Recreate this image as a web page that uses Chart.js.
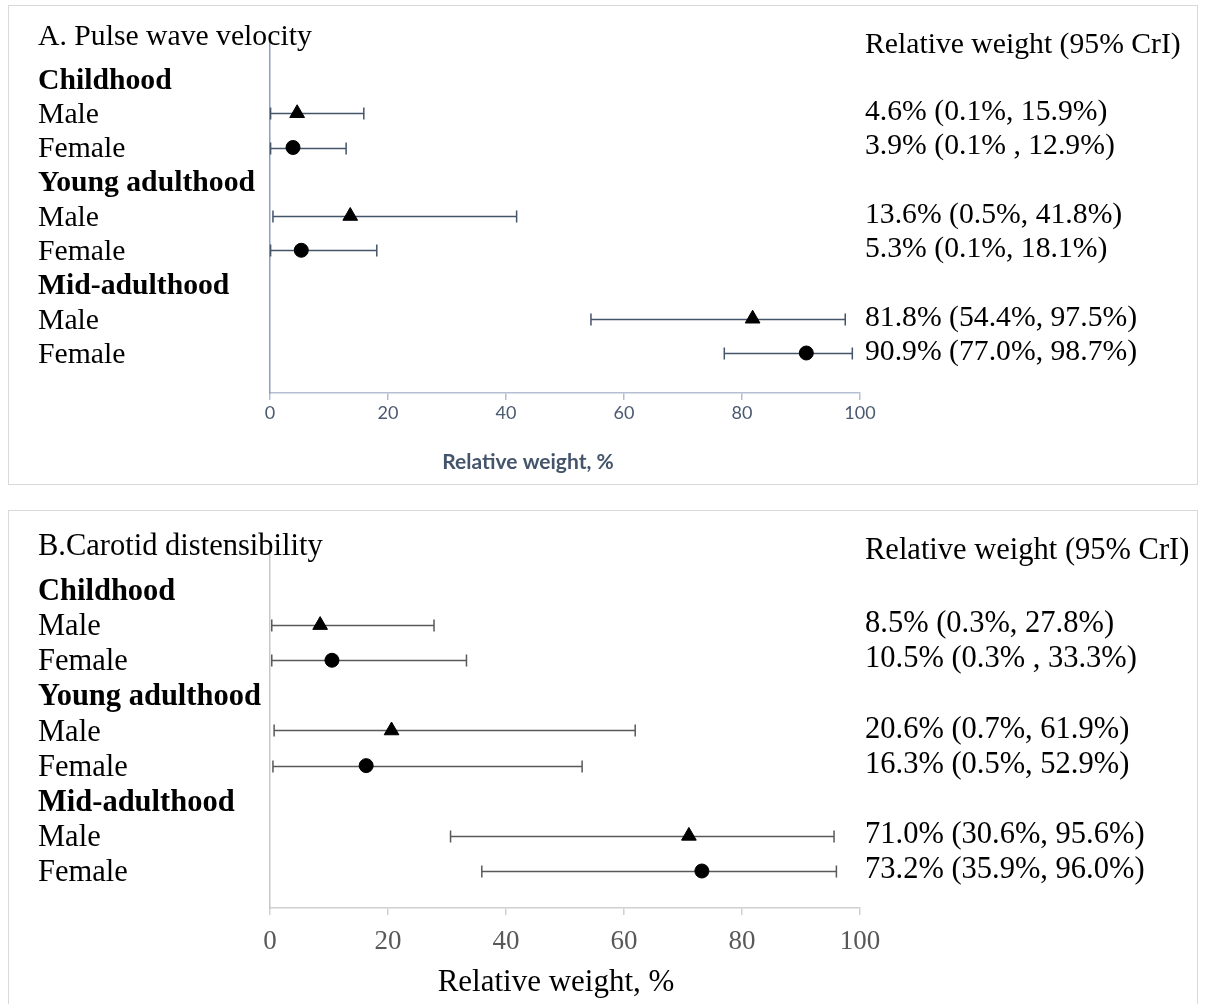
<!DOCTYPE html>
<html>
<head>
<meta charset="utf-8">
<script src="https://cdn.jsdelivr.net/npm/chart.js@4.4.0/dist/chart.umd.min.js"></script>
<style>
  html, body { margin: 0; background: #fff; overflow: hidden; }
  .panel { position: absolute; left: 8px; width: 1190px; box-sizing: border-box; border: 1px solid #d9d9d9; background: #fff; }
  #panelA { top: 5px; height: 480px; }
  #panelB { top: 510px; height: 500px; }
  canvas { display: block; }
</style>
</head>
<body>
<div class="panel" id="panelA"><canvas id="chartA" width="1188" height="478"></canvas></div>
<div class="panel" id="panelB"><canvas id="chartB" width="1188" height="498"></canvas></div>
<script>
const rowLabels = ['Childhood', 'Male', 'Female', 'Young adulthood', 'Male', 'Female', 'Mid-adulthood', 'Male', 'Female'];
const headerRows = [1, 4, 7];
const maleRows = [2, 5, 8];
const femaleRows = [3, 6, 9];
const xTicks = [0, 20, 40, 60, 80, 100];

// A. pulse wave velocity (childhood, young adulthood, mid-adulthood)
const pwvMale = [4.6, 13.6, 81.8];
const pwvMaleLow = [0.1, 0.5, 54.4];
const pwvMaleHigh = [15.9, 41.8, 97.5];
const pwvFemale = [3.9, 5.3, 90.9];
const pwvFemaleLow = [0.1, 0.1, 77.0];
const pwvFemaleHigh = [12.9, 18.1, 98.7];
const pwvMaleText = ['4.6% (0.1%, 15.9%)', '13.6% (0.5%, 41.8%)', '81.8% (54.4%, 97.5%)'];
const pwvFemaleText = ['3.9% (0.1% , 12.9%)', '5.3% (0.1%, 18.1%)', '90.9% (77.0%, 98.7%)'];

// B. carotid distensibility
const cdMale = [8.5, 20.6, 71.0];
const cdMaleLow = [0.3, 0.7, 30.6];
const cdMaleHigh = [27.8, 61.9, 95.6];
const cdFemale = [10.5, 16.3, 73.2];
const cdFemaleLow = [0.3, 0.5, 35.9];
const cdFemaleHigh = [33.3, 52.9, 96.0];
const cdMaleText = ['8.5% (0.3%, 27.8%)', '20.6% (0.7%, 61.9%)', '71.0% (30.6%, 95.6%)'];
const cdFemaleText = ['10.5% (0.3% , 33.3%)', '16.3% (0.5%, 52.9%)', '73.2% (35.9%, 96.0%)'];

const serif = '"Liberation Serif", "Times New Roman", serif';

// error bars + texts drawn with the chart's own scales
function forestExtras(p) {
  return {
    id: 'forestExtras',
    beforeDatasetsDraw(chart) {
      const { ctx, scales: { x, y } } = chart;
      ctx.save();
      ctx.strokeStyle = p.barColor;
      ctx.lineWidth = 1.5;
      p.bars.forEach(b => {
        b.low.forEach((lo, i) => {
          const py = Math.round(y.getPixelForValue(b.rows[i])) + 0.5;
          const x1 = x.getPixelForValue(lo);
          const x2 = x.getPixelForValue(b.high[i]);
          ctx.beginPath();
          ctx.moveTo(x1, py); ctx.lineTo(x2, py);
          ctx.moveTo(x1, py - 6); ctx.lineTo(x1, py + 6);
          ctx.moveTo(x2, py - 6); ctx.lineTo(x2, py + 6);
          ctx.stroke();
        });
      });
      ctx.restore();
    },
    afterDraw(chart) {
      const { ctx, scales: { y } } = chart;
      ctx.save();
      ctx.fillStyle = '#000';
      ctx.textBaseline = 'middle';
      ctx.textAlign = 'left';
      ctx.font = p.textSize + 'px ' + serif;
      ctx.fillText(p.title, 29, p.titleY);
      ctx.fillText('Relative weight (95% CrI)', 856, p.headY);
      p.bars.forEach(b => {
        b.text.forEach((s, i) => ctx.fillText(s, 856, y.getPixelForValue(b.rows[i]) - 1));
      });
      // x axis title
      ctx.textAlign = 'center';
      ctx.fillStyle = p.axisTitleColor;
      ctx.font = p.axisTitleFont;
      ctx.fillText('Relative weight, %', p.axisTitleX, p.axisTitleY);
      ctx.restore();
    }
  };
}

function buildChart(id, p) {
  return new Chart(document.getElementById(id), {
    type: 'scatter',
    data: {
      datasets: [
        {
          label: 'Male',
          data: p.male.map((v, i) => ({ x: v, y: maleRows[i] })),
          pointStyle: 'triangle',
          pointRadius: 8.5,
          backgroundColor: '#000',
          borderColor: '#000'
        },
        {
          label: 'Female',
          data: p.female.map((v, i) => ({ x: v, y: femaleRows[i] })),
          pointStyle: 'circle',
          pointRadius: 7,
          backgroundColor: '#000',
          borderColor: '#000'
        }
      ]
    },
    options: {
      responsive: false,
      animation: false,
      layout: { padding: { left: 29, top: p.top, right: 337, bottom: 0 } },
      plugins: { legend: { display: false }, tooltip: { enabled: false } },
      scales: {
        x: {
          type: 'linear',
          min: 0,
          max: 100,
          afterBuildTicks: s => { s.ticks = xTicks.map(v => ({ value: v })); },
          afterFit: s => { s.height = p.xHeight; },
          border: { color: p.xLine, width: 1.5 },
          grid: { display: true, drawOnChartArea: false, tickLength: 7, color: p.xLine, lineWidth: 1.5 },
          ticks: { padding: p.tickPad, color: p.tickColor, font: p.tickFont },
          title: { display: false }
        },
        y: {
          type: 'linear',
          reverse: true,
          min: p.yMin,
          max: p.yMax,
          afterBuildTicks: s => { s.ticks = rowLabels.map((_, i) => ({ value: i + 1 })); },
          afterFit: s => { s.width = 232; },
          border: { color: p.yLine, width: 1.5 },
          grid: { display: false },
          ticks: {
            crossAlign: 'far',
            labelOffset: 2,
            color: '#000',
            callback: (v, i) => rowLabels[i],
            font: ctx => ({
              family: serif,
              size: p.textSize,
              weight: headerRows.includes(ctx.tick && ctx.tick.value) ? 'bold' : 'normal'
            })
          }
        }
      }
    },
    plugins: [forestExtras(p)]
  });
}

buildChart('chartA', {
  male: pwvMale,
  female: pwvFemale,
  bars: [
    { rows: maleRows, low: pwvMaleLow, high: pwvMaleHigh, text: pwvMaleText },
    { rows: femaleRows, low: pwvFemaleLow, high: pwvFemaleHigh, text: pwvFemaleText }
  ],
  title: 'A. Pulse wave velocity',
  titleY: 31,
  headY: 39,
  textSize: 29.7,
  top: 34,
  xHeight: 91,
  yMin: -0.139,
  yMax: 10.168,
  barColor: '#44546a',
  xLine: '#b4c0d2',
  yLine: '#8ea0bb',
  tickPad: 2,
  tickColor: '#4b5a70',
  tickFont: { family: 'Lato', size: 18 },
  axisTitleColor: '#44546a',
  axisTitleFont: 'bold 21px Lato',
  axisTitleX: 519,
  axisTitleY: 456
});

buildChart('chartB', {
  male: cdMale,
  female: cdFemale,
  bars: [
    { rows: maleRows, low: cdMaleLow, high: cdMaleHigh, text: cdMaleText },
    { rows: femaleRows, low: cdFemaleLow, high: cdFemaleHigh, text: cdFemaleText }
  ],
  title: 'B.Carotid distensibility',
  titleY: 36,
  headY: 40,
  textSize: 30.5,
  top: 42,
  xHeight: 101,
  yMin: -0.053,
  yMax: 10.053,
  barColor: '#595959',
  xLine: '#d0d0d0',
  yLine: '#c8c8c8',
  tickPad: 11,
  tickColor: '#595959',
  tickFont: { family: serif, size: 27 },
  axisTitleColor: '#000',
  axisTitleFont: '31px ' + serif,
  axisTitleX: 547,
  axisTitleY: 472
});
</script>
</body>
</html>
